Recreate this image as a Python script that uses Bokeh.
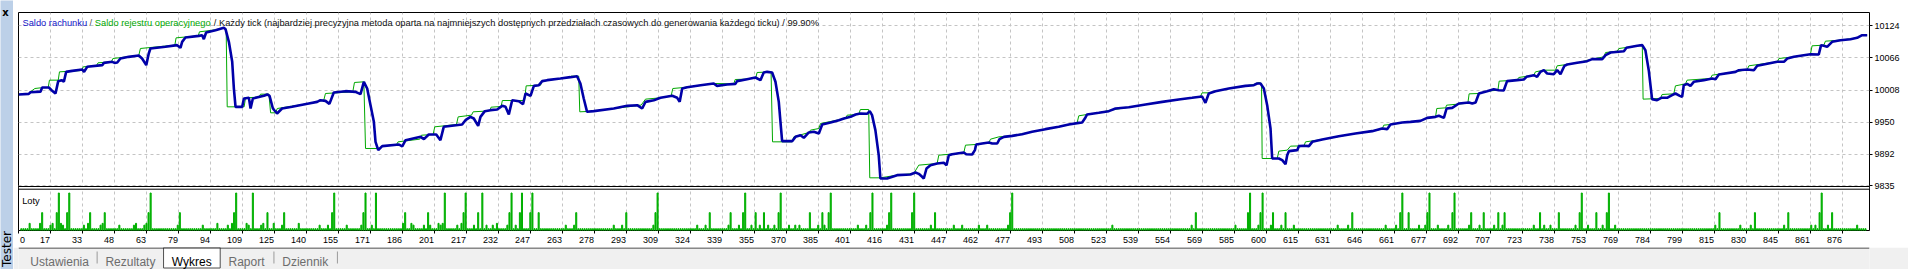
import numpy as np
from bokeh.plotting import figure
from bokeh.layouts import row, column
from bokeh.models import Range1d, LinearAxis, FixedTicker, Label, BoxAnnotation
from bokeh.embed import file_html
from bokeh.resources import INLINE
from bokeh.core.properties import value

FONT = "Liberation Sans"

# ---------------- data ----------------
y_tick_labels = ["9835", "9892", "9950", "10008", "10066", "10124"]
x_tick_labels = ["0", "17", "33", "48", "63", "79", "94", "109", "125", "140", "155", "171", "186",
                 "201", "217", "232", "247", "263", "278", "293", "309", "324", "339", "355", "370",
                 "385", "401", "416", "431", "447", "462", "477", "493", "508", "523", "539", "554",
                 "569", "585", "600", "615", "631", "646", "661", "677", "692", "707", "723", "738",
                 "753", "769", "784", "799", "815", "830", "845", "861", "876"]

# thick blue line ("Saldo rachunku")
saldo_rachunku_trade = [
    1.8, 6.6, 7.4, 12.2, 13.0, 16.2, 17.5, 19.4, 20.7, 22.3, 23.4, 24.5, 27.4, 32.2, 33.1, 34.6, 41.8, 42.6,
    46.6, 47.7, 49.0, 50.5, 54.5, 59.3, 60.9, 62.9, 64.1, 64.9, 72.1, 77.7, 79.3, 80.1, 81.7, 88.1, 89.7,
    90.5, 91.6, 96.1, 100.1, 100.9, 102.5, 104.1, 104.9, 105.7, 108.9, 109.7, 112.1, 112.9, 114.0, 119.3,
    120.9, 122.0, 123.6, 125.6, 128.0, 132.8, 140.8, 144.8, 146.4, 148.8, 150.7, 152.8, 158.4, 163.2,
    165.6, 167.2, 168.8, 170.4, 172.0, 172.8, 174.1, 176.0, 184.0, 185.6, 187.2, 194.4, 196.0, 198.3,
    201.9, 203.9, 205.5, 214.3, 215.9, 218.3, 219.9, 222.0, 223.1, 225.2,
    227.9, 231.1, 233.5, 235.1, 236.7, 238.3, 241.5, 243.5, 244.7, 247.1, 248.7, 251.1, 252.7, 255.1,
    261.4, 266.2, 269.4, 271.0, 272.6, 274.2, 277.4, 287.0, 293.4, 298.2, 300.6, 302.2, 306.2, 309.4,
    315.0, 317.4, 318.6, 319.8, 322.2, 328.6, 334.9, 336.5, 341.3, 345.3, 346.1, 350.9, 354.9, 357.3,
    358.9, 360.5, 362.9, 364.5, 366.1, 366.9, 367.7, 372.5, 374.1, 376.5, 378.1, 380.5, 382.9, 385.3,
    386.9, 390.9, 394.9, 397.3, 400.5, 402.9, 405.2, 408.4, 409.7, 410.8, 412.4, 414.0, 414.8, 418.0,
    422.8, 429.2, 431.6, 433.2, 434.8, 435.6, 436.9, 438.8, 442.0, 445.2, 446.5, 447.6,
    449.2, 454.8, 455.9, 458.8, 460.1, 460.7, 463.6, 466.8, 468.4, 470.8, 471.9, 474.0, 478.0, 482.7,
    487.5, 493.9, 500.3, 505.1, 509.9, 511.5, 512.8, 513.9, 519.5, 524.3, 527.5, 533.9, 541.9, 549.9,
    557.8, 564.2, 569.0, 570.6, 572.2, 575.4, 581.8, 589.8, 593.8, 595.4, 597.0, 598.6, 600.2, 601.8,
    602.6, 605.8, 607.4, 609.0, 609.8, 610.6, 614.6, 615.4, 617.8, 620.2, 621.8, 626.6, 634.5, 642.5,
    650.5, 655.3, 657.7, 659.3, 664.9,
    668.9, 673.7, 676.9, 680.9, 682.5, 684.9, 686.2, 688.9, 692.1, 696.9, 698.5, 700.1, 701.7, 705.6,
    708.8, 711.2, 713.6, 715.2, 720.0, 723.2, 724.5, 728.0, 729.6, 731.2, 732.8, 734.4, 737.6, 739.2,
    740.8, 742.7, 744.0, 748.8, 753.6, 756.0, 760.8, 762.4, 764.8, 771.2, 772.4, 777.6, 780.0, 781.5,
    783.1, 784.7, 787.1, 789.1, 791.9, 794.3, 795.9, 798.0, 799.1, 799.9, 801.5, 803.1, 804.7, 809.5,
    813.5, 815.1, 816.7, 824.7, 826.3, 830.3, 833.5, 835.1, 844.7, 847.9, 849.5, 852.7, 857.4, 860.6,
    864.6, 865.7, 867.0, 868.6, 871.0, 875.0, 879.8, 883.0, 885.4, 887.8]
saldo_rachunku_value = [
    10000.0, 10001.0, 10004.0, 10005.0, 10012.5, 10012.5, 10007.7, 10001.7, 10024.0, 10025.8, 10022.8,
    10040.8, 10042.6, 10045.0, 10040.8, 10049.9, 10052.9, 10057.0, 10058.9, 10057.0, 10057.7, 10064.9,
    10067.9, 10070.3, 10064.9, 10052.9, 10073.9, 10083.0, 10086.0, 10089.0, 10084.2, 10095.0, 10102.8,
    10105.8, 10107.0, 10099.8, 10111.9, 10116.0, 10120.3, 10117.9, 10095.0, 10058.9, 10010.7, 9977.6,
    9977.6, 9992.7, 9993.9, 9974.6, 9992.7, 9997.5, 9999.9, 9997.5, 9974.6, 9965.6, 9974.6, 9977.6,
    9983.6, 9986.6, 9989.6, 9988.4, 9983.0, 10003.5, 10005.9, 10004.7, 10000.5, 10022.8, 10010.7, 9980.6,
    9950.5, 9914.4, 9899.4, 9906.6, 9909.6, 9906.0, 9917.4, 9923.4, 9919.2, 9927.6, 9927.6, 9917.4,
    9941.5, 9945.7, 9953.5, 9959.5, 9956.5, 9943.3, 9959.5, 9969.8,
    9971.6, 9972.8, 9979.4, 9977.6, 9963.8, 9989.6, 9987.8, 9982.4, 10001.7, 9997.5, 10015.5, 10016.7,
    10024.0, 10025.8, 10028.8, 10031.2, 10033.0, 10019.8, 9992.7, 9968.6, 9969.8, 9974.6, 9979.4, 9980.6,
    9974.6, 9986.6, 9989.6, 9993.9, 9997.5, 9993.9, 9986.6, 10010.7, 10013.1, 10016.7, 10019.8, 10015.5,
    10017.9, 10019.1, 10024.0, 10027.6, 10030.6, 10025.8, 10039.6, 10040.8, 10039.6, 10022.8, 9986.6,
    9950.5, 9915.6, 9915.6, 9923.4, 9926.4, 9921.6, 9931.3, 9932.5, 9929.5, 9945.7, 9949.3, 9953.5,
    9956.5, 9959.5, 9963.8, 9965.6, 9965.0, 9969.8, 9962.6, 9935.5, 9890.3, 9848.2, 9848.2, 9854.2,
    9855.4, 9859.0, 9856.6, 9851.2, 9848.2, 9866.2, 9872.3, 9875.3, 9876.5, 9872.3, 9890.3,
    9892.1, 9895.1, 9892.1, 9891.5, 9899.4, 9909.6, 9911.4, 9913.2, 9911.4, 9911.4, 9919.2, 9923.4,
    9925.2, 9928.2, 9932.5, 9937.3, 9941.5, 9945.7, 9948.7, 9949.3, 9956.5, 9963.8, 9966.8, 9969.8,
    9974.6, 9977.0, 9981.8, 9986.6, 9990.9, 9993.9, 9996.3, 9984.8, 10001.7, 10005.9, 10010.7, 10015.5,
    10016.7, 10019.8, 10019.8, 10010.7, 9980.6, 9938.5, 9884.3, 9884.3, 9881.3, 9874.1, 9890.3, 9897.6,
    9899.4, 9906.6, 9907.2, 9906.6, 9914.4, 9918.6, 9924.6, 9929.5, 9933.7, 9938.5, 9937.3, 9945.7,
    9949.3,
    9950.5, 9952.3, 9957.7, 9959.5, 9961.4, 9957.7, 9974.6, 9975.8, 9983.6, 9985.4, 9983.6, 9985.4,
    10001.7, 10005.9, 10009.5, 10007.7, 10007.1, 10024.0, 10025.8, 10027.0, 10031.8, 10034.8, 10031.8,
    10040.8, 10043.8, 10037.8, 10036.6, 10043.8, 10036.6, 10051.7, 10054.1, 10057.1, 10060.1, 10063.7,
    10063.7, 10070.9, 10075.7, 10078.1, 10084.2, 10087.8, 10089.0, 10079.9, 10043.8, 9991.5, 9989.6,
    9993.9, 9993.9, 9998.7, 10001.7, 9997.5, 9995.7, 10016.7, 10019.1, 10015.5, 10022.8, 10025.8,
    10028.8, 10027.6, 10036.0, 10040.8, 10043.8, 10045.0, 10043.8, 10051.7, 10058.9, 10058.9, 10064.9,
    10067.9, 10070.9, 10072.7, 10072.1, 10089.0, 10087.8, 10086.0, 10095.0, 10098.0, 10099.8, 10102.2,
    10107.0, 10107.0]

# thin green line ("Saldo rejestru operacyjnego")
saldo_rejestru_trade = [
    1.8, 6.6, 7.4, 9.5, 12.2, 15.9, 16.5, 20.7, 21.3, 31.9, 32.7, 39.0, 39.8, 46.2, 46.9, 59.3, 60.1,
    76.6, 77.2, 87.8, 88.4, 96.1, 100.1, 101.2, 101.7, 109.8, 110.5, 116.9, 117.7, 121.7, 122.5, 124.9,
    125.7, 140.8, 148.0, 148.8, 161.9, 162.7, 167.2, 168.0, 174.4, 176.0, 182.9, 183.6, 194.0, 194.8,
    200.4, 201.2, 211.6, 212.4, 218.8, 219.6, 225.2, 227.6, 228.2, 233.0, 233.6, 244.2, 245.0, 251.9,
    252.5, 265.9, 266.6, 270.2, 270.7, 277.4, 287.0, 297.4, 298.2, 300.1, 302.2, 309.4, 314.5, 315.3,
    322.2, 334.9, 344.5, 345.2, 350.9, 355.1, 355.7, 362.4, 363.1, 372.5, 373.3, 380.5, 381.3, 385.3,
    386.1, 398.1, 398.9, 404.4, 405.2, 409.2, 409.7, 414.8, 422.8, 430.8, 433.2, 442.0, 442.8, 448.4,
    454.8, 455.6, 460.4, 463.6, 466.8, 467.6, 471.6, 478.0, 487.5, 500.3, 509.1, 509.9, 513.9, 519.5,
    524.3, 533.9, 549.9, 564.2, 568.2, 569.0, 572.2, 581.8, 593.8, 596.2, 597.5, 597.8, 605.0, 605.8,
    609.8, 611.4, 617.8, 618.6, 626.6, 642.5, 655.3, 656.1, 659.3, 664.9, 668.9, 673.7, 676.9, 680.9,
    681.5, 685.7, 686.2, 696.4, 697.0, 701.7, 705.6, 710.8, 711.4, 720.0, 720.8, 728.0, 728.8, 732.8,
    738.4, 739.2, 744.0, 748.8, 756.0, 761.6, 762.4, 768.0, 768.8, 777.6, 780.0, 780.4, 788.7, 789.5,
    795.1, 795.9, 800.7, 801.5, 812.7, 813.5, 824.7, 830.3, 831.1, 844.7, 845.5, 852.7, 860.6, 861.4,
    867.0, 867.8, 875.0, 883.0, 885.4, 887.8]
saldo_rejestru_value = [
    10000.0, 10001.0, 10004.7, 10010.7, 10011.9, 10012.5, 10025.8, 10025.8, 10040.8, 10043.2, 10049.9,
    10051.7, 10057.1, 10058.9, 10064.9, 10070.3, 10083.0, 10089.0, 10102.2, 10105.8, 10113.1, 10116.7,
    10120.3, 10117.9, 9977.6, 9977.6, 9993.9, 9995.1, 10000.5, 10000.5, 9966.8, 9966.8, 9974.6, 9983.6,
    9989.6, 10001.7, 10004.7, 10021.6, 10022.8, 9902.4, 9902.4, 9906.6, 9909.6, 9914.4, 9919.2, 9926.4,
    9927.6, 9941.5, 9945.7, 9959.5, 9962.6, 9968.6, 9969.8, 9971.0, 9977.0, 9978.2, 9989.0, 9989.0,
    10015.5, 10016.7, 10024.0, 10031.2, 10033.0, 10033.0, 9968.6, 9969.8, 9974.6, 9979.4, 9980.6, 9980.6,
    9991.5, 9993.9, 9997.5, 10010.7, 10013.1, 10019.8, 10019.1, 10027.0, 10027.6, 10030.6, 10039.6,
    10040.8, 9914.4, 9914.4, 9923.4, 9931.3, 9935.5, 9938.5, 9947.5, 9956.5, 9962.6, 9963.8, 9972.8,
    9972.8, 9849.4, 9849.4, 9854.2, 9857.2, 9872.3, 9875.3, 9890.3, 9892.1, 9895.1, 9908.4, 9909.6,
    9911.4, 9913.2, 9919.2, 9923.4, 9925.2, 9932.5, 9941.5, 9948.7, 9961.4, 9963.8, 9966.8, 9971.0,
    9977.0, 9986.6, 9993.9, 9996.3, 10002.9, 10002.9, 10010.7, 10018.0, 10021.6, 10019.8, 9884.3, 9884.3,
    9897.6, 9899.4, 9906.6, 9907.2, 9914.4, 9918.6, 9929.5, 9937.3, 9944.5, 9945.7, 9949.3, 9950.5,
    9952.3, 9957.7, 9959.5, 9974.6, 9975.8, 9980.6, 9984.2, 10001.1, 10001.7, 10005.9, 10007.7, 10024.0,
    10025.8, 10030.6, 10034.8, 10040.8, 10043.8, 10043.8, 10051.7, 10054.1, 10057.1, 10063.7, 10067.9,
    10075.7, 10078.1, 10082.9, 10087.8, 10090.2, 9991.5, 9992.7, 9999.9, 10001.1, 10015.5, 10019.1,
    10025.8, 10028.8, 10034.8, 10040.8, 10045.0, 10051.7, 10058.9, 10064.9, 10067.9, 10072.7, 10087.8,
    10089.0, 10096.2, 10098.0, 10102.2, 10107.0, 10107.0]

# lots panel ("Loty"): one bar per trade, most at the minimum lot
trade_first, trade_last = 3, 887
lot_min = 0.01
lots_021_trades = [21, 26, 65, 106, 114, 153, 168, 173, 206, 216, 224, 238, 243, 248, 308, 350, 367, 391,
                   411, 420, 431, 478, 592, 598, 665, 678, 690, 751, 764, 866]
lots_010_trades = [13, 20, 25, 36, 43, 64, 79, 105, 121, 129, 152, 167, 187, 198, 215, 222, 237, 242, 247,
                   251, 269, 293, 307, 333, 343, 349, 355, 359, 366, 381, 387, 390, 410, 419, 430, 441, 477,
                   566, 591, 597, 603, 609, 641, 664, 668, 677, 689, 698, 704, 711, 714, 731, 740, 750,
                   758, 763, 817, 834, 850, 865, 871]
lots_004_trades = [7, 12, 18, 22, 35, 42, 58, 63, 97, 104, 111, 119, 124, 136, 186, 190, 203, 205, 214, 231]
lots_003_trades = [17, 23, 33, 41, 50, 57, 62, 78, 90, 102, 112, 118, 128, 146, 150, 159, 166, 171, 191,
                   196, 199, 204, 212, 220, 226, 229, 236, 240, 264, 268, 287, 291, 306, 327, 331, 342,
                   347, 353, 357, 361, 364, 371, 374, 376, 385, 388, 404, 408, 418, 439, 450, 454, 462,
                   466, 476, 526, 564, 585, 596, 602, 607, 613, 634, 639, 657, 662, 673, 676, 682, 687,
                   697, 702, 709, 713, 728, 733, 736, 748, 754, 761, 767, 815, 827, 832, 848, 861, 863,
                   869, 883]

lot_trades = list(range(trade_first, trade_last + 1))
lot_sizes = []
for tr in lot_trades:
    if tr in lots_021_trades:
        lot_sizes.append(0.21)
    elif tr in lots_010_trades:
        lot_sizes.append(0.10)
    elif tr in lots_004_trades:
        lot_sizes.append(0.04)
    elif tr in lots_003_trades:
        lot_sizes.append(0.03)
    else:
        lot_sizes.append(lot_min)

# ---------------- scales ----------------
FRAME_W, FRAME_H = 1851, 218
TRADES_PER_PX = 0.47934
X_START = 1.66
X_END = X_START + FRAME_W * TRADES_PER_PX
VALUE_PER_PX = 1.806
Y_START = 9835 - 44.7 * VALUE_PER_PX
Y_END = Y_START + FRAME_H * VALUE_PER_PX
LOT_PER_PX = 0.0056
LOTS_TOP = FRAME_H * LOT_PER_PX

grid_step = 32 * TRADES_PER_PX
grid_pos = [round(X_START + k * grid_step, 4) for k in range(len(x_tick_labels))]
label_pos = []
for k, lab in enumerate(x_tick_labels):
    half_w = len(lab) * 5.0 / 2.0
    shift_px = (half_w + 1.5) if k == 0 else -(half_w + 0.5)
    label_pos.append(round(grid_pos[k] + shift_px * TRADES_PER_PX, 4))
y_tick_values = [float(s) for s in y_tick_labels]

# ---------------- main chart ----------------
p = figure(width=1895, height=243, x_range=Range1d(X_START, X_END), y_range=Range1d(Y_START, Y_END),
           x_axis_location=None, y_axis_location=None, toolbar_location=None, output_backend="svg",
           min_border_left=5, min_border_right=39, min_border_top=8, min_border_bottom=17,
           background_fill_color="white", border_fill_color="white",
           outline_line_color="black", outline_line_width=1)
p.extra_y_ranges = {"lots": Range1d(0, LOTS_TOP)}

p.xgrid.ticker = FixedTicker(ticks=grid_pos)
p.ygrid.ticker = FixedTicker(ticks=y_tick_values)
p.grid.grid_line_color = "#c4c4c4"
p.grid.grid_line_dash = "3 3"
p.grid.grid_line_width = 1

p.vbar(x=lot_trades, top=lot_sizes, bottom=0, width=0.5, color="#00b000", y_range_name="lots")
p.line(saldo_rejestru_trade, saldo_rejestru_value, color="#00a800", line_width=1)
p.line(saldo_rachunku_trade, saldo_rachunku_value, color="#0000a8", line_width=2.6)

sep = BoxAnnotation(bottom=41.3 * LOT_PER_PX, top=44.0 * LOT_PER_PX, y_range_name="lots",
                    fill_color="white", fill_alpha=1.0, line_color="black", line_width=1, line_alpha=1.0)
p.add_layout(sep)

xaxis = LinearAxis(ticker=FixedTicker(ticks=label_pos, minor_ticks=grid_pos),
                   major_label_overrides={pos: lab for pos, lab in zip(label_pos, x_tick_labels)},
                   major_tick_in=0, major_tick_out=0, major_tick_line_color=None,
                   minor_tick_in=0, minor_tick_out=3, minor_tick_line_color="black",
                   axis_line_color=None, major_label_standoff=3,
                   major_label_text_font=FONT, major_label_text_font_size="9px",
                   major_label_text_color="black")
p.add_layout(xaxis, "below")

yaxis = LinearAxis(ticker=FixedTicker(ticks=y_tick_values),
                   major_label_overrides={v: s for v, s in zip(y_tick_values, y_tick_labels)},
                   major_tick_in=0, major_tick_out=3, minor_tick_in=0, minor_tick_out=0,
                   axis_line_color=None, major_label_standoff=2,
                   major_label_text_font=FONT, major_label_text_font_size="9px",
                   major_label_text_color="black")
p.add_layout(yaxis, "right")

title_parts = ["Saldo rachunku", "/", "Saldo rejestru operacyjnego",
               "/ Każdy tick (najbardziej precyzyjna metoda oparta na najmniejszych dostępnych "
               "przedziałach czasowych do generowania każdego ticku) / 99.90%"]
title_colors = ["#1414c8", "#505050", "#00a800", "#101010"]
title_x = [4, 71, 76.3, 195.3]
for txt, col, xx in zip(title_parts, title_colors, title_x):
    p.add_layout(Label(x=xx, y=207.5, x_units="screen", y_units="screen", text=txt,
                       text_color=col, text_font=FONT, text_font_size="9.3px",
                       text_baseline="alphabetic", text_align="left"))
p.add_layout(Label(x=3.7, y=29.8, x_units="screen", y_units="screen", text="Loty",
                   text_color="black", text_font=FONT, text_font_size="9.3px",
                   text_baseline="alphabetic", text_align="left"))

# ---------------- window chrome ----------------
top_band = figure(width=1895, height=4, x_range=Range1d(13, 1908), y_range=Range1d(4, 0),
                  x_axis_location=None, y_axis_location=None, toolbar_location=None, output_backend="svg",
                  min_border=0, outline_line_color=None, background_fill_color="#f0f0f0",
                  border_fill_color="#f0f0f0")
top_band.grid.visible = False
top_band.segment(x0=[13, 13], y0=[0.5, 3.5], x1=[1908, 1908], y1=[0.5, 3.5],
                 color=["#c8c8c8", "#a0a0a0"], line_width=1)

tabs = figure(width=1895, height=22, x_range=Range1d(13, 1908), y_range=Range1d(269, 247),
              x_axis_location=None, y_axis_location=None, toolbar_location=None, output_backend="svg",
              min_border=0, outline_line_color=None, background_fill_color="#f0f0f0",
              border_fill_color="#f0f0f0")
tabs.grid.visible = False
tabs.quad(left=[161.5], right=[219.5], top=[247], bottom=[267.5], fill_color="white",
          line_color="#505050", line_width=1)
tabs.segment(x0=[13], y0=[247.5], x1=[1908], y1=[247.5], color="#202020", line_width=1)
tabs.segment(x0=[93.5, 274.5, 339.5], y0=[251, 251, 251], x1=[93.5, 274.5, 339.5], y1=[263, 263, 263],
             color="#9a9a9a", line_width=1)
tab_names = ["Ustawienia", "Rezultaty", "Wykres", "Raport", "Dziennik"]
tab_x = [25, 102, 170, 228, 283]
tab_colors = ["#6d6d6d", "#6d6d6d", "#000000", "#6d6d6d", "#6d6d6d"]
tabs.text(x=tab_x, y=[261] * 5, text=tab_names, text_color=tab_colors, text_font=value(FONT),
          text_font_size="12px", text_baseline="alphabetic", text_align="left")

left_bar = figure(width=13, height=269, x_range=Range1d(0, 13), y_range=Range1d(269, 0),
                  x_axis_location=None, y_axis_location=None, toolbar_location=None, output_backend="svg",
                  min_border=0, outline_line_color=None, background_fill_color="#bcd0e8",
                  border_fill_color="#bcd0e8")
left_bar.grid.visible = False
left_bar.text(x=[5], y=[11.5], text=["x"], text_font=value("DejaVu Sans"), text_font_style="bold",
              text_font_size="10px", text_align="center", text_baseline="middle", text_color="black")
left_bar.text(x=[6], y=[266.5], text=["Tester"], angle=np.pi / 2, text_font=value("DejaVu Sans"),
              text_font_size="12px", text_align="left", text_baseline="middle", text_color="black")

layout = row(left_bar, column(top_band, p, tabs))

open("out.html", "w").write(file_html(layout, INLINE))
